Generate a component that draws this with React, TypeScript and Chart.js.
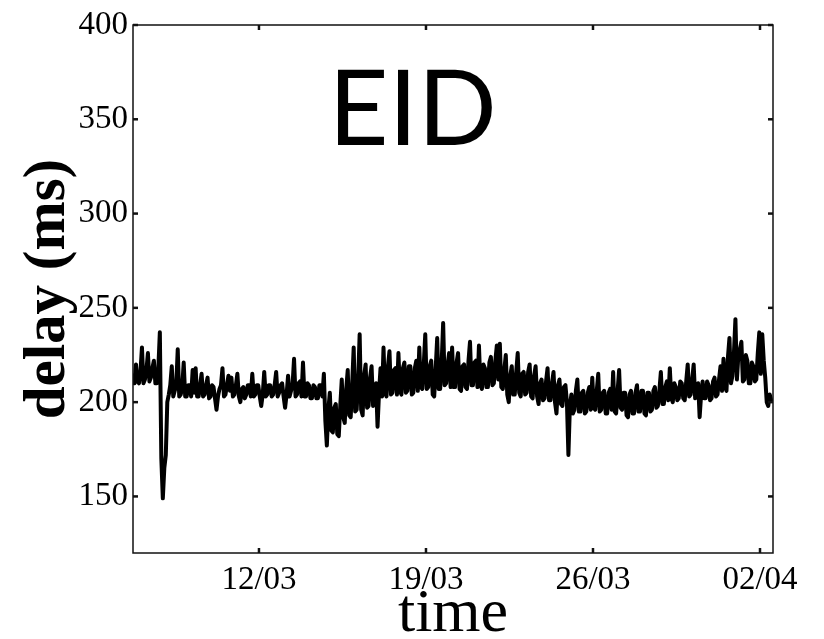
import React, { useEffect, useRef } from "react";
import { Chart, registerables } from "chart.js";

Chart.register(...registerables);

// x values are days counted from 01/03 00:00; one sample every 1.5 hours
const startDay = 5.72;
const endDay = 32.545;
const stepHours = 1.5;

const delayMs: number[] = [
  214, 210, 220, 211, 210, 216, 229, 210, 212, 217, 226, 211, 213, 218, 222, 210, 210, 218, 237, 170, 149, 165, 172, 200,
  204, 209, 219, 203, 206, 209, 228, 203, 204, 208, 221, 203, 203, 209, 209, 203, 217, 205, 218, 203,
  203, 209, 215, 203, 204, 209, 213, 202, 203, 209, 208, 202, 196, 203, 207, 209, 218, 203, 204, 209,
  214, 206, 213, 203, 204, 209, 215, 203, 200, 207, 208, 202, 204, 209, 209, 203, 215, 203, 204, 209,
  209, 203, 198, 204, 216, 203, 204, 209, 209, 203, 204, 209, 216, 203, 205, 209, 210, 203, 197, 204,
  214, 203, 206, 209,
  223, 203, 204, 210, 211, 203, 221, 203, 203, 210, 209, 202, 202, 209, 208, 202, 202, 209, 209, 203, 215, 190,
  177, 196, 205, 185, 184, 197, 199, 183, 182, 198, 212, 192, 189, 207, 217, 193, 192, 210, 229, 195,
  196, 212, 236, 196, 193, 214, 220, 197, 198, 213, 219, 198, 203, 210, 187, 205, 218, 203,
  229, 205, 203, 219, 227, 204, 205, 217, 218, 204, 226, 206, 204, 218, 221, 205, 206, 219, 219, 204,
  205, 218, 222, 206, 229, 208, 207, 220, 236, 207, 208, 219, 222, 204, 203, 218, 234, 207, 207, 221,
  242, 209, 210, 220, 226, 208,
  229, 208, 208, 221, 226, 207, 206, 219, 220, 208, 207, 222, 232, 209, 209, 221, 222, 208, 230, 209,
  207, 220, 218, 208, 208, 221, 224, 209, 210, 222, 230, 212, 231, 208,
  207, 217, 225, 204, 200, 214, 219, 204, 204, 216, 226, 205, 203, 215, 216, 204, 205, 216, 220, 203, 202, 214, 219, 203,
  199, 210, 212, 201, 202, 211, 218, 201, 201, 210, 216, 200, 194, 209, 212, 199, 198, 208, 209, 200, 172, 198,
  204, 194, 196, 206, 212, 195, 195, 205, 206, 194, 195, 205, 208, 196, 213, 197, 196, 206, 215, 195,
  196, 205, 206, 194, 194, 205, 207, 196, 216, 195, 194, 206, 217, 197, 196, 205, 205, 193, 192, 204,
  206, 194, 194, 205, 209, 195, 195, 206, 206, 194, 193, 205, 205, 195, 196, 206, 208, 197, 198, 206,
  216, 199, 199, 208, 211, 201,
  218, 202, 200, 210, 208, 201, 202, 211, 210, 202, 201, 211, 220, 203, 204, 212, 220, 202, 203, 210,
  192, 204, 211, 202, 202, 211, 209, 201, 202, 211, 213, 203, 204, 212, 219, 206,
  223, 208, 206, 224, 234, 210, 214, 226, 244, 212, 225, 228, 232, 211, 212, 225, 222, 210, 210, 221,
  219, 211, 212, 226, 237, 215, 236, 222, 213, 200, 198, 204, 201,
];

const xTickDays: number[] = [11, 18, 25, 32];
const xTickLabels: string[] = ["12/03", "19/03", "26/03", "02/04"];
const yTickValues: number[] = [150, 200, 250, 300, 350, 400];
const yMin = 120;
const yMax = 400;
const titleText = "EID";
const xTitle = "time";
const yTitle = "delay (ms)";

const frameAndTicks = {
  id: "frameAndTicks",
  afterDraw(chart: any) {
    const { ctx, chartArea: a, scales } = chart;
    ctx.save();
    ctx.strokeStyle = "#111";
    ctx.lineWidth = 1.5;
    ctx.strokeRect(a.left, a.top, a.right - a.left, a.bottom - a.top);
    ctx.lineWidth = 2.5;
    ctx.lineCap = "butt";
    const seg = (x1: number, y1: number, x2: number, y2: number) => {
      ctx.beginPath();
      ctx.moveTo(x1, y1);
      ctx.lineTo(x2, y2);
      ctx.stroke();
    };
    for (const v of yTickValues) {
      const y = scales.y.getPixelForValue(v);
      seg(a.left, y, a.left + 5, y);
      seg(a.right - 5, y, a.right, y);
    }
    for (const v of xTickDays) {
      const x = scales.x.getPixelForValue(v);
      seg(x, a.bottom, x, a.bottom - 5);
      seg(x, a.top, x, a.top + 5);
    }
    ctx.fillStyle = "#000";
    ctx.font = "400 104px Lato";
    ctx.textAlign = "center";
    ctx.textBaseline = "alphabetic";
    ctx.fillText(titleText, a.left + (a.right - a.left) * 0.437, a.top + 120);
    ctx.restore();
  },
};

export default function App() {
  const canvasRef = useRef<HTMLCanvasElement | null>(null);

  useEffect(() => {
    if (!canvasRef.current) return;
    const points = delayMs.map((v, i) => ({ x: startDay + (i * stepHours) / 24, y: v }));
    const chart = new Chart(canvasRef.current, {
      type: "line",
      data: {
        datasets: [
          {
            data: points,
            borderColor: "#000",
            borderWidth: 4,
            borderJoinStyle: "round",
            borderCapStyle: "round",
            pointRadius: 0,
            tension: 0,
            fill: false,
          },
        ],
      },
      options: {
        animation: false,
        responsive: false,
        devicePixelRatio: 1,
        layout: { padding: { top: 25, right: 51, left: 0, bottom: 0 } },
        plugins: { legend: { display: false }, tooltip: { enabled: false } },
        scales: {
          x: {
            type: "linear",
            min: startDay,
            max: endDay,
            afterBuildTicks: (scale: any) => {
              scale.ticks = xTickDays.map((v) => ({ value: v }));
            },
            afterFit: (scale: any) => {
              scale.height = 86;
            },
            grid: { display: false, drawTicks: false },
            border: { display: false },
            ticks: {
              autoSkip: false,
              maxRotation: 0,
              padding: 8,
              color: "#000",
              font: { family: "Liberation Serif", size: 33 },
              callback: (v: any) => {
                const idx = xTickDays.indexOf(Number(v));
                return idx >= 0 ? xTickLabels[idx] : "";
              },
            },
            title: {
              display: true,
              text: xTitle,
              color: "#000",
              font: { family: "Liberation Serif", size: 62, lineHeight: 0.78 },
              padding: { top: 0, bottom: 0 },
            },
          },
          y: {
            type: "linear",
            min: yMin,
            max: yMax,
            afterBuildTicks: (scale: any) => {
              scale.ticks = yTickValues.map((v) => ({ value: v }));
            },
            afterFit: (scale: any) => {
              scale.width = 133;
            },
            grid: { display: false, drawTicks: false },
            border: { display: false },
            ticks: {
              padding: 5,
              color: "#000",
              font: { family: "Liberation Serif", size: 33 },
            },
            title: {
              display: true,
              text: yTitle,
              color: "#000",
              font: { family: "Liberation Serif", size: 59, weight: "bold" },
              padding: { top: 13, bottom: 0 },
            },
          },
        },
      },
      plugins: [frameAndTicks],
    } as any);
    return () => chart.destroy();
  }, []);

  return (
    <div style={{ position: "absolute", left: 0, top: 0, width: 824, height: 639, background: "#fff" }}>
      <canvas ref={canvasRef} width={824} height={639} style={{ display: "block" }} />
    </div>
  );
}
